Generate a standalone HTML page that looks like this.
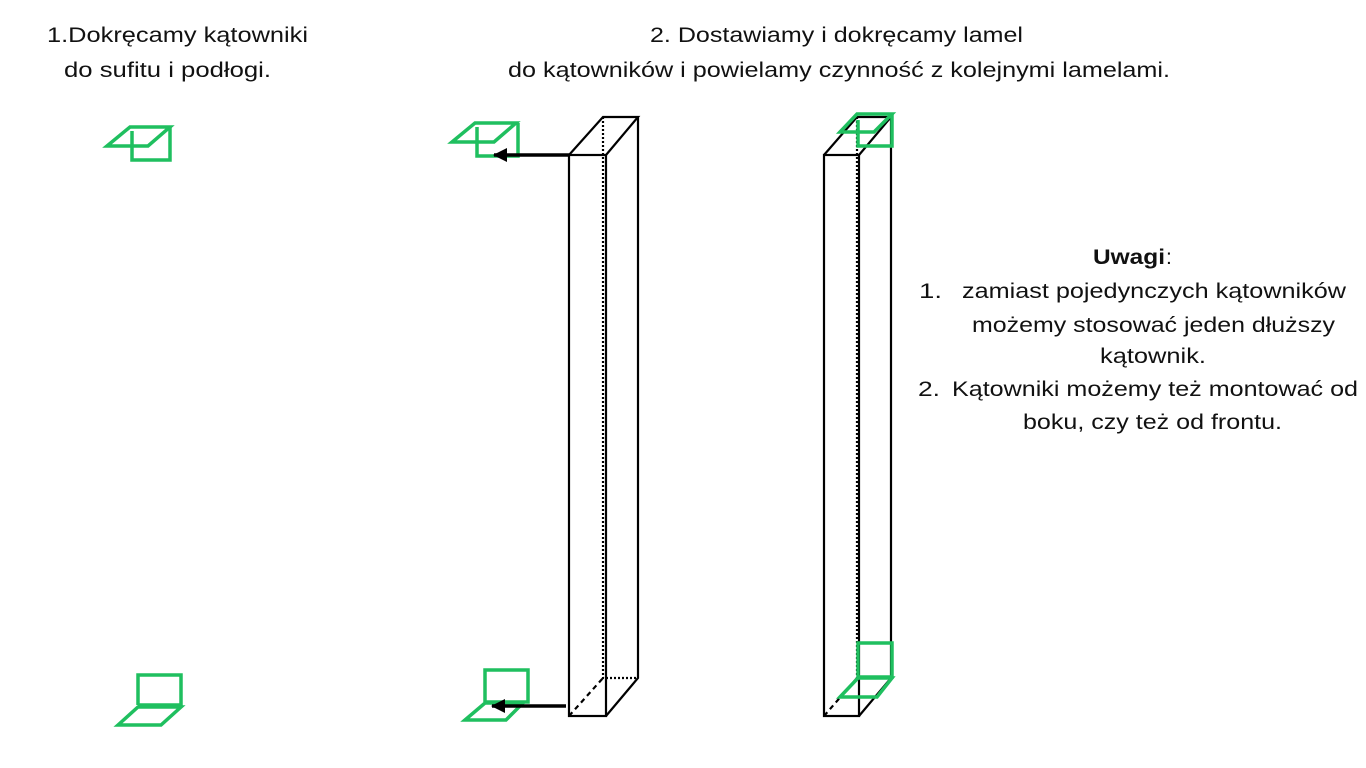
<!DOCTYPE html>
<html><head><meta charset="utf-8"><style>html,body{margin:0;padding:0;background:#fff}svg{display:block}</style></head>
<body>
<svg width="1366" height="768" viewBox="0 0 1366 768" xmlns="http://www.w3.org/2000/svg" font-family="Liberation Sans, DejaVu Sans, sans-serif" font-size="21" fill="#111">
<defs><marker id="ah" markerWidth="16" markerHeight="16" refX="13" refY="7" orient="auto" markerUnits="userSpaceOnUse"><path d="M0,0 L14,7 L0,14 Z" fill="#000"/></marker></defs>
<!-- text -->
<text x="47" y="42" textLength="261" lengthAdjust="spacingAndGlyphs">1.Dokręcamy kątowniki</text>
<text x="64" y="77" textLength="207" lengthAdjust="spacingAndGlyphs">do sufitu i podłogi.</text>
<text x="650" y="42" textLength="373" lengthAdjust="spacingAndGlyphs">2. Dostawiamy i dokręcamy lamel</text>
<text x="508" y="77" textLength="662" lengthAdjust="spacingAndGlyphs">do kątowników i powielamy czynność z kolejnymi lamelami.</text>
<text x="1093" y="264" font-weight="bold" textLength="72" lengthAdjust="spacingAndGlyphs">Uwagi</text><text x="1166" y="264">:</text>
<text x="919" y="298" textLength="23" lengthAdjust="spacingAndGlyphs">1.</text>
<text x="962" y="298" textLength="384" lengthAdjust="spacingAndGlyphs">zamiast pojedynczych kątowników</text>
<text x="972" y="332" textLength="363" lengthAdjust="spacingAndGlyphs">możemy stosować jeden dłuższy</text>
<text x="1100" y="363" textLength="106" lengthAdjust="spacingAndGlyphs">kątownik.</text>
<text x="918" y="396" textLength="22" lengthAdjust="spacingAndGlyphs">2.</text>
<text x="952" y="396" textLength="406" lengthAdjust="spacingAndGlyphs">Kątowniki możemy też montować od</text>
<text x="1023" y="429" textLength="259" lengthAdjust="spacingAndGlyphs">boku, czy też od frontu.</text>

<g fill="none" stroke="#1fbf5f" stroke-width="3.5" stroke-linejoin="miter">
 <path d="M107,146 L130,127 L170,127 L148,146 Z"/>
 <path d="M132,131 V160 H170 V127"/>
 <path d="M452,142 L475,123 L516,123 L494,142 Z"/>
 <path d="M477,127 V156 H518 V123"/>
 <path d="M138,705 V675 H181 V705 H138"/>
 <path d="M118,725 L138,707 L181,707 L161,725 Z"/>
 <path d="M485,702 V670 H528 V702 H485"/>
 <path d="M465,720 L485,703 L523,703 L506,720 Z"/>
</g>

<g fill="none" stroke="#000" stroke-width="2.2">
 <rect x="569" y="155" width="37" height="561"/>
 <path d="M569,155 L603,117 H638 L606,155 M638,117 V678 L606,716"/>
 <path d="M603,117 V678 H638" stroke-dasharray="2,2"/>
 <path d="M569,716 L603,678" stroke-dasharray="5,4"/>
 <rect x="824" y="155" width="35" height="561"/>
 <path d="M824,155 L857,117 H891 L859,155 M891,117 V678 L859,716"/>
 <path d="M857,117 V678 H891" stroke-dasharray="2,2"/>
 <path d="M824,716 L857,678" stroke-dasharray="5,4"/>
 <path d="M569,155 H494" stroke-width="3.5" marker-end="url(#ah)"/>
 <path d="M566,706 H492" stroke-width="3.5" marker-end="url(#ah)"/>
</g>

<g fill="none" stroke="#1fbf5f" stroke-width="3.5">
 <path d="M840,132 L857,114 H892 L874,132 Z"/>
 <path d="M858,120 V146 H892 V114"/>
 <path d="M858,643 H892 V677 H858 Z"/>
 <path d="M840,697 L858,678 H892 L877,697 Z"/>
</g>
</svg>
</body></html>
